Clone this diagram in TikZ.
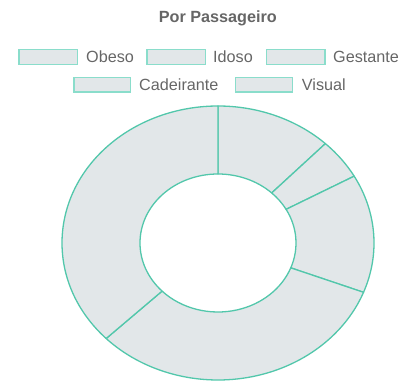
\documentclass[tikz,border=0pt]{standalone}
\usepackage{fontspec}
\setmainfont{Liberation Sans}
\usetikzlibrary{calc}
\definecolor{teal1}{HTML}{52C7AB}
\definecolor{tealL}{HTML}{8ADDCB}
\definecolor{fillg}{HTML}{E2E7E9}
\definecolor{txt}{HTML}{666666}
\tikzset{
  slice/.style={fill=fillg,draw=teal1,line width=1.3pt,line join=round},
  legbox/.style={fill=fillg,draw=tealL,line width=1.2pt},
  legtxt/.style={anchor=base west,inner sep=0pt,text=txt,font=\fontsize{16.2}{19}\selectfont},
}
\newcommand{\donutslice}[2]{%
  \draw[slice] ($(c)+(#1:156pt and 137pt)$) arc[start angle=#1,end angle=#2,x radius=156pt,y radius=137pt]
    -- ($(c)+(#2:78pt and 69pt)$) arc[start angle=#2,end angle=#1,x radius=78pt,y radius=69pt] -- cycle;}
\begin{document}
\begin{tikzpicture}[x=1pt,y=1pt]
\useasboundingbox (0,0) rectangle (403,380);
\coordinate (c) at (218,137);
% title
\node[anchor=base,inner sep=0pt,text=txt,font=\bfseries\fontsize{16.2}{19}\selectfont] (title) at (217.8,357.7) {Por Passageiro};
% legend
\draw[legbox] (19,315.7) rectangle (77.7,330.7);
\node[legtxt] (l1) at (86,317) {Obeso};
\draw[legbox] (147,315.7) rectangle (205.7,330.7);
\node[legtxt] (l2) at (213,317) {Idoso};
\draw[legbox] (266.7,315.7) rectangle (325,330.7);
\node[legtxt] (l3) at (333,317) {Gestante};
\draw[legbox] (74,288) rectangle (130.7,302.7);
\node[legtxt] (l4) at (139,289.3) {Cadeirante};
\draw[legbox] (235.7,288) rectangle (292.7,302.7);
\node[legtxt] (l5) at (301.7,289.3) {Visual};
% donut
\donutslice{90}{46.5}
\donutslice{46.5}{29.2}
\donutslice{29.2}{-21.1}
\donutslice{-21.1}{-135.8}
\donutslice{-135.8}{-270}
\end{tikzpicture}
\end{document}
